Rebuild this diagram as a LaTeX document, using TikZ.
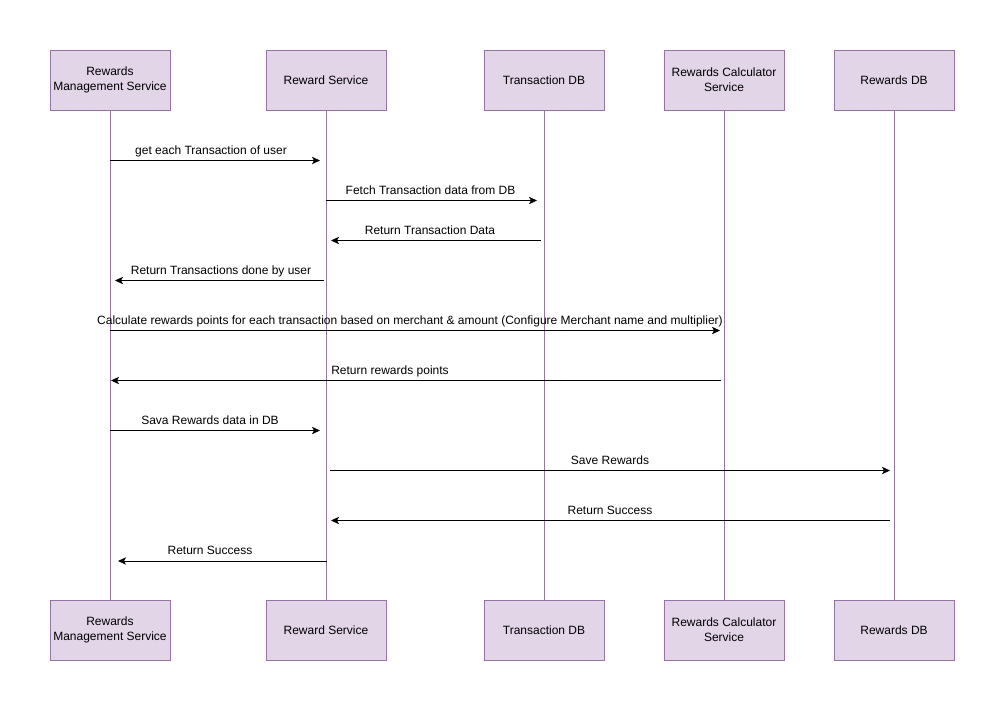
\documentclass[tikz,border=0pt]{standalone}
\usepackage{fontspec}
\setmainfont{Liberation Sans}
\usetikzlibrary{arrows.meta}
\definecolor{boxfill}{HTML}{E1D5E7}
\definecolor{boxline}{HTML}{9673A6}
\begin{document}
\begin{tikzpicture}[x=0.75pt,y=-0.75pt,
  actor/.style={draw=boxline,fill=boxfill,line width=0.75pt,minimum width=90pt,
    minimum height=45pt,inner sep=0pt,align=center,
    font=\fontsize{9pt}{11.25pt}\selectfont},
  lifeline/.style={draw=boxline,line width=0.75pt},
  msg/.style={draw=black,line width=0.75pt,
    -{Stealth[length=6pt,width=5.5pt,inset=1.5pt]}},
  lbl/.style={inner sep=0pt,anchor=base,font=\fontsize{9pt}{11pt}\selectfont}]
\useasboundingbox (0,0) rectangle (1005,711);

% participants, top row
\node[actor] (rmsT) at (110,80) {Rewards\\Management Service};
\node[actor] (rsT)  at (326,80) {Reward Service};
\node[actor] (tdbT) at (544,80) {Transaction DB};
\node[actor] (rcsT) at (724,80) {Rewards Calculator\\Service};
\node[actor] (rdbT) at (894,80) {Rewards DB};
% participants, bottom row
\node[actor] (rmsB) at (110,630) {Rewards\\Management Service};
\node[actor] (rsB)  at (326,630) {Reward Service};
\node[actor] (tdbB) at (544,630) {Transaction DB};
\node[actor] (rcsB) at (724,630) {Rewards Calculator\\Service};
\node[actor] (rdbB) at (894,630) {Rewards DB};

% lifelines
\draw[lifeline] (rmsT) -- (rmsB);
\draw[lifeline] (rsT)  -- (rsB);
\draw[lifeline] (tdbT) -- (tdbB);
\draw[lifeline] (rcsT) -- (rcsB);
\draw[lifeline] (rdbT) -- (rdbB);

% message end points
\coordinate (m1s) at (110,160.5);  \coordinate (m1e) at (320,160.5);
\coordinate (m2s) at (326,200.5);  \coordinate (m2e) at (537,200.5);
\coordinate (m3s) at (541,240.5);  \coordinate (m3e) at (331,240.5);
\coordinate (m4s) at (324,280.5);  \coordinate (m4e) at (115,280.5);
\coordinate (m5s) at (110,330.5);  \coordinate (m5e) at (720,330.5);
\coordinate (m6s) at (721,380.5);  \coordinate (m6e) at (111,380.5);
\coordinate (m7s) at (110,430.5);  \coordinate (m7e) at (320,430.5);
\coordinate (m8s) at (330,470.5);  \coordinate (m8e) at (890,470.5);
\coordinate (m9s) at (890,520.5);  \coordinate (m9e) at (331,520.5);
\coordinate (m10s) at (327,561);   \coordinate (m10e) at (118,561);

% messages
\draw[msg] (m1s) -- (m1e);
\draw[msg] (m2s) -- (m2e);
\draw[msg] (m3s) -- (m3e);
\draw[msg] (m4s) -- (m4e);
\draw[msg] (m5s) -- (m5e);
\draw[msg] (m6s) -- (m6e);
\draw[msg] (m7s) -- (m7e);
\draw[msg] (m8s) -- (m8e);
\draw[msg] (m9s) -- (m9e);
\draw[msg] (m10s) -- (m10e);

% message labels
\node[lbl] (l1) at (211,154.3) {get each Transaction of user};
\node[lbl] (l2) at (430.5,194.3) {Fetch Transaction data from DB};
\node[lbl] (l3) at (430,234.3) {Return Transaction Data};
\node[lbl] (l4) at (221,274.3) {Return Transactions done by user};
\node[lbl] (l5) at (410,324.3) {Calculate rewards points for each transaction based on merchant \& amount (Configure Merchant name and multiplier)};
\node[lbl] (l6) at (390,374.3) {Return rewards points};
\node[lbl] (l7) at (210,424.3) {Sava Rewards data in DB};
\node[lbl] (l8) at (610,464.3) {Save Rewards};
\node[lbl] (l9) at (610,514.3) {Return Success};
\node[lbl] (l10) at (210,554.8) {Return Success};
\end{tikzpicture}
\end{document}
